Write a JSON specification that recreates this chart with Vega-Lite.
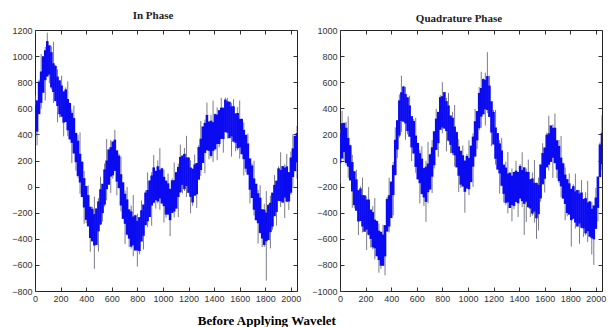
{
 "$schema": "https://vega.github.io/schema/vega-lite/v6.json",
 "background": "white",
 "padding": {"left": 11, "top": 9, "right": 0, "bottom": 0},
 "title": {"text": "Before Applying Wavelet", "orient": "bottom", "anchor": "middle", "font": "Liberation Serif", "fontSize": 13, "fontWeight": "bold", "color": "#000", "offset": 11, "dx": -42},
 "spacing": 9,
 "datasets": {
  "ip": [
{"x":0,"l":385,"h":625,"gl":390,"gh":700},{"x":16,"l":421,"h":661,"gl":316,"gh":646},{"x":32,"l":555,"h":805,"gl":580,"gh":820},{"x":48,"l":642,"h":882,"gl":597,"gh":1017},{"x":64,"l":719,"h":999,"gl":734,"gh":994},{"x":80,"l":815,"h":1045,"gl":660,"gh":1070},{"x":96,"l":845,"h":1115,"gl":840,"gh":1180},{"x":112,"l":858,"h":1083,"gl":793,"gh":1058},{"x":128,"l":760,"h":1030,"gl":745,"gh":1075},{"x":144,"l":725,"h":945,"gl":640,"gh":1110},{"x":160,"l":655,"h":925,"gl":680,"gh":930},{"x":176,"l":618,"h":843,"gl":493,"gh":898},{"x":192,"l":555,"h":815,"gl":530,"gh":800},
{"x":208,"l":535,"h":775,"gl":540,"gh":850},{"x":224,"l":490,"h":730,"gl":385,"gh":715},{"x":240,"l":495,"h":745,"gl":520,"gh":760},{"x":256,"l":431,"h":671,"gl":386,"gh":806},{"x":272,"l":361,"h":641,"gl":376,"gh":636},{"x":288,"l":335,"h":565,"gl":180,"gh":590},{"x":304,"l":255,"h":525,"gl":250,"gh":620},{"x":320,"l":187,"h":412,"gl":122,"gh":387},{"x":336,"l":82,"h":352,"gl":67,"gh":397},{"x":352,"l":31,"h":251,"gl":-54,"gh":416},{"x":368,"l":-80,"h":190,"gl":-55,"gh":195},{"x":384,"l":-160,"h":65,"gl":-285,"gh":120},{"x":400,"l":-255,"h":5,"gl":-280,"gh":-10},
{"x":416,"l":-305,"h":-65,"gl":-300,"gh":10},{"x":432,"l":-394,"h":-154,"gl":-499,"gh":-169},{"x":448,"l":-420,"h":-170,"gl":-395,"gh":-155},{"x":464,"l":-451,"h":-211,"gl":-630,"gh":-76},{"x":480,"l":-447,"h":-167,"gl":-432,"gh":-172},{"x":496,"l":-343,"h":-113,"gl":-498,"gh":-88},{"x":512,"l":-290,"h":-20,"gl":-295,"gh":75},{"x":528,"l":-203,"h":22,"gl":-268,"gh":-3},{"x":544,"l":-138,"h":132,"gl":-153,"gh":177},{"x":560,"l":-20,"h":200,"gl":-105,"gh":365},{"x":576,"l":14,"h":284,"gl":39,"gh":289},{"x":592,"l":77,"h":302,"gl":-48,"gh":357},{"x":608,"l":86,"h":346,"gl":61,"gh":331},
{"x":624,"l":120,"h":360,"gl":125,"gh":435},{"x":640,"l":38,"h":278,"gl":-67,"gh":263},{"x":656,"l":-12,"h":238,"gl":13,"gh":253},{"x":672,"l":-145,"h":95,"gl":-190,"gh":230},{"x":688,"l":-247,"h":33,"gl":-232,"gh":28},{"x":704,"l":-285,"h":-55,"gl":-440,"gh":-30},{"x":720,"l":-368,"h":-98,"gl":-373,"gh":-3},{"x":736,"l":-399,"h":-174,"gl":-464,"gh":-199},{"x":752,"l":-460,"h":-190,"gl":-475,"gh":-145},{"x":768,"l":-449,"h":-229,"gl":-534,"gh":-64},{"x":784,"l":-490,"h":-220,"gl":-465,"gh":-215},{"x":800,"l":-488,"h":-263,"gl":-613,"gh":-208},{"x":816,"l":-494,"h":-234,"gl":-519,"gh":-249},
{"x":832,"l":-421,"h":-181,"gl":-416,"gh":-106},{"x":848,"l":-377,"h":-137,"gl":-482,"gh":-152},{"x":864,"l":-296,"h":-46,"gl":-271,"gh":-31},{"x":880,"l":-266,"h":-26,"gl":-311,"gh":109},{"x":896,"l":-233,"h":47,"gl":-218,"gh":42},{"x":912,"l":-145,"h":85,"gl":-300,"gh":110},{"x":928,"l":-123,"h":147,"gl":-128,"gh":242},{"x":944,"l":-104,"h":121,"gl":-169,"gh":96},{"x":960,"l":-114,"h":156,"gl":-129,"gh":201},{"x":976,"l":-91,"h":129,"gl":-176,"gh":294},{"x":992,"l":-130,"h":140,"gl":-105,"gh":145},{"x":1008,"l":-150,"h":75,"gl":-275,"gh":130},{"x":1024,"l":-214,"h":46,"gl":-239,"gh":31},
{"x":1040,"l":-215,"h":25,"gl":-210,"gh":100},{"x":1056,"l":-257,"h":-17,"gl":-380,"gh":-32},{"x":1072,"l":-202,"h":48,"gl":-177,"gh":63},{"x":1088,"l":-191,"h":49,"gl":-236,"gh":184},{"x":1104,"l":-169,"h":111,"gl":-154,"gh":106},{"x":1120,"l":-79,"h":151,"gl":-234,"gh":176},{"x":1136,"l":-43,"h":227,"gl":-48,"gh":322},{"x":1152,"l":13,"h":238,"gl":-52,"gh":213},{"x":1168,"l":-19,"h":251,"gl":-34,"gh":296},{"x":1184,"l":4,"h":224,"gl":-81,"gh":389},{"x":1200,"l":-48,"h":222,"gl":-23,"gh":227},{"x":1216,"l":-79,"h":146,"gl":-204,"gh":201},{"x":1232,"l":-122,"h":138,"gl":-147,"gh":123},
{"x":1248,"l":-70,"h":170,"gl":-65,"gh":245},{"x":1264,"l":-59,"h":181,"gl":-164,"gh":166},{"x":1280,"l":53,"h":303,"gl":78,"gh":318},{"x":1296,"l":127,"h":367,"gl":82,"gh":502},{"x":1312,"l":181,"h":461,"gl":196,"gh":456},{"x":1328,"l":258,"h":488,"gl":103,"gh":513},{"x":1344,"l":279,"h":549,"gl":274,"gh":644},{"x":1360,"l":274,"h":499,"gl":209,"gh":474},{"x":1376,"l":235,"h":505,"gl":220,"gh":550},{"x":1392,"l":274,"h":494,"gl":189,"gh":659},{"x":1408,"l":285,"h":555,"gl":310,"gh":560},{"x":1424,"l":327,"h":552,"gl":202,"gh":607},{"x":1440,"l":326,"h":586,"gl":301,"gh":571},
{"x":1456,"l":365,"h":605,"gl":370,"gh":680},{"x":1472,"l":365,"h":605,"gl":260,"gh":590},{"x":1488,"l":417,"h":667,"gl":442,"gh":682},{"x":1504,"l":413,"h":653,"gl":368,"gh":680},{"x":1520,"l":371,"h":651,"gl":386,"gh":646},{"x":1536,"l":385,"h":615,"gl":230,"gh":640},{"x":1552,"l":345,"h":615,"gl":340,"gh":670},{"x":1568,"l":336,"h":561,"gl":271,"gh":536},{"x":1584,"l":294,"h":564,"gl":279,"gh":609},{"x":1600,"l":299,"h":519,"gl":214,"gh":660},{"x":1616,"l":248,"h":518,"gl":273,"gh":523},{"x":1632,"l":210,"h":435,"gl":85,"gh":490},{"x":1648,"l":137,"h":397,"gl":112,"gh":382},
{"x":1664,"l":91,"h":331,"gl":96,"gh":406},{"x":1680,"l":-24,"h":216,"gl":-129,"gh":201},{"x":1696,"l":-88,"h":162,"gl":-63,"gh":177},{"x":1712,"l":-177,"h":63,"gl":-222,"gh":198},{"x":1728,"l":-258,"h":22,"gl":-243,"gh":17},{"x":1744,"l":-281,"h":-51,"gl":-436,"gh":-26},{"x":1760,"l":-355,"h":-85,"gl":-360,"gh":10},{"x":1776,"l":-398,"h":-173,"gl":-463,"gh":-198},{"x":1792,"l":-447,"h":-177,"gl":-462,"gh":-132},{"x":1808,"l":-419,"h":-199,"gl":-720,"gh":-34},{"x":1824,"l":-410,"h":-140,"gl":-385,"gh":-135},{"x":1840,"l":-349,"h":-124,"gl":-474,"gh":-69},{"x":1856,"l":-306,"h":-46,"gl":-331,"gh":-61},
{"x":1872,"l":-227,"h":13,"gl":-222,"gh":88},{"x":1888,"l":-194,"h":46,"gl":-299,"gh":31},{"x":1904,"l":-110,"h":140,"gl":-85,"gh":155},{"x":1920,"l":-112,"h":128,"gl":-157,"gh":263},{"x":1936,"l":-123,"h":157,"gl":-108,"gh":152},{"x":1952,"l":-85,"h":145,"gl":-240,"gh":170},{"x":1968,"l":-115,"h":155,"gl":-120,"gh":250},{"x":1984,"l":-114,"h":111,"gl":-179,"gh":86},{"x":2000,"l":-47,"h":223,"gl":-62,"gh":268},{"x":2016,"l":73,"h":293,"gl":-12,"gh":400},{"x":2032,"l":118,"h":388,"gl":143,"gh":393},{"x":2048,"l":185,"h":410,"gl":60,"gh":465}
  ],
  "qp": [
{"x":0,"l":-20,"h":210,"gl":-175,"gh":235},{"x":16,"l":16,"h":286,"gl":11,"gh":381},{"x":32,"l":64,"h":289,"gl":-1,"gh":264},{"x":48,"l":-19,"h":251,"gl":-34,"gh":296},{"x":64,"l":-47,"h":173,"gl":-132,"gh":338},{"x":80,"l":-153,"h":117,"gl":-128,"gh":122},{"x":96,"l":-237,"h":-12,"gl":-362,"gh":43},{"x":112,"l":-342,"h":-82,"gl":-367,"gh":-97},{"x":128,"l":-385,"h":-145,"gl":-380,"gh":-70},{"x":144,"l":-467,"h":-227,"gl":-572,"gh":-242},{"x":160,"l":-464,"h":-214,"gl":-439,"gh":-199},{"x":176,"l":-506,"h":-266,"gl":-551,"gh":-131},{"x":192,"l":-546,"h":-266,"gl":-531,"gh":-271},
{"x":208,"l":-530,"h":-300,"gl":-685,"gh":-275},{"x":224,"l":-569,"h":-299,"gl":-574,"gh":-204},{"x":240,"l":-601,"h":-376,"gl":-666,"gh":-401},{"x":256,"l":-665,"h":-395,"gl":-680,"gh":-350},{"x":272,"l":-673,"h":-453,"gl":-758,"gh":-288},{"x":288,"l":-734,"h":-464,"gl":-709,"gh":-459},{"x":304,"l":-763,"h":-538,"gl":-860,"gh":-483},{"x":320,"l":-806,"h":-546,"gl":-831,"gh":-561},{"x":336,"l":-807,"h":-567,"gl":-802,"gh":-492},{"x":352,"l":-735,"h":-495,"gl":-880,"gh":-510},{"x":368,"l":-545,"h":-295,"gl":-520,"gh":-280},{"x":384,"l":-506,"h":-266,"gl":-551,"gh":-131},{"x":400,"l":-441,"h":-161,"gl":-426,"gh":-166},
{"x":416,"l":-265,"h":-35,"gl":-420,"gh":-10},{"x":432,"l":-111,"h":159,"gl":-116,"gh":254},{"x":448,"l":84,"h":309,"gl":19,"gh":284},{"x":464,"l":191,"h":461,"gl":176,"gh":506},{"x":480,"l":303,"h":523,"gl":218,"gh":650},{"x":496,"l":297,"h":567,"gl":322,"gh":572},{"x":512,"l":284,"h":509,"gl":159,"gh":564},{"x":528,"l":225,"h":485,"gl":200,"gh":470},{"x":544,"l":182,"h":422,"gl":187,"gh":497},{"x":560,"l":100,"h":340,"gl":-5,"gh":325},{"x":576,"l":53,"h":303,"gl":78,"gh":318},{"x":592,"l":-49,"h":191,"gl":-94,"gh":326},{"x":608,"l":-145,"h":135,"gl":-130,"gh":130},
{"x":624,"l":-174,"h":56,"gl":-329,"gh":81},{"x":640,"l":-256,"h":14,"gl":-261,"gh":109},{"x":656,"l":-283,"h":-58,"gl":-348,"gh":-83},{"x":672,"l":-317,"h":-47,"gl":-470,"gh":-2},{"x":688,"l":-243,"h":-23,"gl":-328,"gh":142},{"x":704,"l":-223,"h":47,"gl":-198,"gh":52},{"x":720,"l":-124,"h":101,"gl":-249,"gh":156},{"x":736,"l":-36,"h":224,"gl":-61,"gh":209},{"x":752,"l":81,"h":321,"gl":86,"gh":396},{"x":768,"l":133,"h":373,"gl":28,"gh":358},{"x":784,"l":235,"h":485,"gl":260,"gh":500},{"x":800,"l":253,"h":493,"gl":208,"gh":600},{"x":816,"l":244,"h":524,"gl":259,"gh":519},
{"x":832,"l":225,"h":455,"gl":70,"gh":480},{"x":848,"l":152,"h":422,"gl":147,"gh":517},{"x":864,"l":120,"h":345,"gl":55,"gh":320},{"x":880,"l":58,"h":328,"gl":43,"gh":373},{"x":896,"l":40,"h":260,"gl":-45,"gh":425},{"x":912,"l":-53,"h":217,"gl":-28,"gh":222},{"x":928,"l":-117,"h":108,"gl":-242,"gh":163},{"x":944,"l":-185,"h":75,"gl":-210,"gh":60},{"x":960,"l":-200,"h":40,"gl":-195,"gh":115},{"x":976,"l":-240,"h":0,"gl":-400,"gh":-15},{"x":992,"l":-215,"h":35,"gl":-190,"gh":50},{"x":1008,"l":-220,"h":20,"gl":-265,"gh":155},{"x":1024,"l":-166,"h":114,"gl":-151,"gh":109},
{"x":1040,"l":-47,"h":183,"gl":-202,"gh":208},{"x":1056,"l":31,"h":301,"gl":26,"gh":396},{"x":1072,"l":154,"h":379,"gl":89,"gh":354},{"x":1088,"l":248,"h":518,"gl":233,"gh":563},{"x":1104,"l":336,"h":556,"gl":251,"gh":680},{"x":1120,"l":354,"h":624,"gl":379,"gh":629},{"x":1136,"l":393,"h":618,"gl":268,"gh":673},{"x":1152,"l":387,"h":647,"gl":362,"gh":830},{"x":1168,"l":334,"h":574,"gl":339,"gh":649},{"x":1184,"l":214,"h":454,"gl":109,"gh":439},{"x":1200,"l":122,"h":372,"gl":147,"gh":387},{"x":1216,"l":13,"h":253,"gl":-32,"gh":388},{"x":1232,"l":-70,"h":210,"gl":-55,"gh":205},
{"x":1248,"l":-99,"h":131,"gl":-254,"gh":156},{"x":1264,"l":-193,"h":77,"gl":-198,"gh":172},{"x":1280,"l":-256,"h":-31,"gl":-321,"gh":-56},{"x":1296,"l":-324,"h":-54,"gl":-339,"gh":-9},{"x":1312,"l":-320,"h":-100,"gl":-405,"gh":65},{"x":1328,"l":-364,"h":-94,"gl":-339,"gh":-89},{"x":1344,"l":-341,"h":-116,"gl":-466,"gh":-61},{"x":1360,"l":-348,"h":-88,"gl":-373,"gh":-103},{"x":1376,"l":-318,"h":-78,"gl":-313,"gh":-3},{"x":1392,"l":-328,"h":-88,"gl":-433,"gh":-103},{"x":1408,"l":-292,"h":-42,"gl":-267,"gh":-27},{"x":1424,"l":-312,"h":-72,"gl":-357,"gh":63},{"x":1440,"l":-332,"h":-52,"gl":-570,"gh":-57},
{"x":1456,"l":-316,"h":-86,"gl":-471,"gh":-61},{"x":1472,"l":-358,"h":-88,"gl":-363,"gh":7},{"x":1488,"l":-368,"h":-143,"gl":-433,"gh":-168},{"x":1504,"l":-407,"h":-137,"gl":-422,"gh":-92},{"x":1520,"l":-391,"h":-171,"gl":-476,"gh":4},{"x":1536,"l":-443,"h":-173,"gl":-600,"gh":-168},{"x":1552,"l":-411,"h":-186,"gl":-536,"gh":-131},{"x":1568,"l":-290,"h":-30,"gl":-315,"gh":-45},{"x":1584,"l":-183,"h":57,"gl":-178,"gh":132},{"x":1600,"l":-140,"h":100,"gl":-245,"gh":85},{"x":1616,"l":-53,"h":197,"gl":-28,"gh":212},{"x":1632,"l":-32,"h":208,"gl":-77,"gh":343},{"x":1648,"l":-11,"h":269,"gl":4,"gh":264},
{"x":1664,"l":21,"h":251,"gl":-134,"gh":276},{"x":1680,"l":-19,"h":251,"gl":-24,"gh":360},{"x":1696,"l":-70,"h":155,"gl":-135,"gh":130},{"x":1712,"l":-158,"h":112,"gl":-173,"gh":157},{"x":1728,"l":-198,"h":22,"gl":-283,"gh":187},{"x":1744,"l":-292,"h":-22,"gl":-267,"gh":-17},{"x":1760,"l":-333,"h":-108,"gl":-458,"gh":-53},{"x":1776,"l":-403,"h":-143,"gl":-428,"gh":-158},{"x":1792,"l":-415,"h":-175,"gl":-410,"gh":-100},{"x":1808,"l":-457,"h":-217,"gl":-660,"gh":-232},{"x":1824,"l":-447,"h":-197,"gl":-422,"gh":-182},{"x":1840,"l":-476,"h":-236,"gl":-521,"gh":-101},{"x":1856,"l":-506,"h":-226,"gl":-491,"gh":-231},
{"x":1872,"l":-483,"h":-253,"gl":-638,"gh":-228},{"x":1888,"l":-515,"h":-245,"gl":-520,"gh":-150},{"x":1904,"l":-520,"h":-295,"gl":-585,"gh":-320},{"x":1920,"l":-558,"h":-288,"gl":-573,"gh":-243},{"x":1936,"l":-541,"h":-321,"gl":-626,"gh":-156},{"x":1952,"l":-584,"h":-314,"gl":-559,"gh":-309},{"x":1968,"l":-595,"h":-370,"gl":-720,"gh":-315},{"x":1984,"l":-604,"h":-344,"gl":-800,"gh":-359},{"x":2000,"l":-524,"h":-284,"gl":-519,"gh":-209},{"x":2016,"l":-363,"h":-123,"gl":-468,"gh":-138},{"x":2032,"l":-127,"h":123,"gl":-102,"gh":138},{"x":2048,"l":-28,"h":212,"gl":-73,"gh":347}
  ]
 },
 "hconcat": [
  {
   "width": 262, "height": 261,
   "title": {"text": "In Phase", "dx": -13, "offset": 5},
   "data": {"name": "ip"},
   "resolve": {"axis": {"x": "independent", "y": "independent"}},
   "layer": [
    {"mark": {"type": "rule", "color": "#7a7a8a", "strokeWidth": 1, "clip": true},
     "encoding": {
      "x": {"field": "x", "type": "quantitative", "scale": {"domain": [0, 2048], "nice": false, "zero": false}, "axis": {"orient": "bottom", "format": "d", "values": [0,200,400,600,800,1000,1200,1400,1600,1800,2000], "title": null}},
      "y": {"field": "gl", "type": "quantitative", "scale": {"domain": [-800, 1200], "nice": false, "zero": false}, "axis": {"orient": "left", "format": "d", "values": [-800,-600,-400,-200,0,200,400,600,800,1000,1200], "title": null}},
      "y2": {"field": "gh"}}},
    {"mark": {"type": "rule", "color": "#0b0bf2", "strokeWidth": 2.6, "clip": true},
     "encoding": {
      "x": {"field": "x", "type": "quantitative", "axis": {"orient": "top", "labels": false, "maxExtent": 0, "values": [0,200,400,600,800,1000,1200,1400,1600,1800,2000], "title": null}},
      "y": {"field": "l", "type": "quantitative", "axis": {"orient": "right", "labels": false, "maxExtent": 0, "values": [-800,-600,-400,-200,0,200,400,600,800,1000,1200], "title": null}},
      "y2": {"field": "h"}}}
   ]
  },
  {
   "width": 262, "height": 261,
   "title": {"text": "Quadrature Phase", "dx": -12, "offset": 2},
   "data": {"name": "qp"},
   "resolve": {"axis": {"x": "independent", "y": "independent"}},
   "layer": [
    {"mark": {"type": "rule", "color": "#7a7a8a", "strokeWidth": 1, "clip": true},
     "encoding": {
      "x": {"field": "x", "type": "quantitative", "scale": {"domain": [0, 2048], "nice": false, "zero": false}, "axis": {"orient": "bottom", "format": "d", "values": [0,200,400,600,800,1000,1200,1400,1600,1800,2000], "title": null}},
      "y": {"field": "gl", "type": "quantitative", "scale": {"domain": [-1000, 1000], "nice": false, "zero": false}, "axis": {"orient": "left", "format": "d", "values": [-1000,-800,-600,-400,-200,0,200,400,600,800,1000], "title": null}},
      "y2": {"field": "gh"}}},
    {"mark": {"type": "rule", "color": "#0b0bf2", "strokeWidth": 2.6, "clip": true},
     "encoding": {
      "x": {"field": "x", "type": "quantitative", "axis": {"orient": "top", "labels": false, "maxExtent": 0, "values": [0,200,400,600,800,1000,1200,1400,1600,1800,2000], "title": null}},
      "y": {"field": "l", "type": "quantitative", "axis": {"orient": "right", "labels": false, "maxExtent": 0, "values": [-1000,-800,-600,-400,-200,0,200,400,600,800,1000], "title": null}},
      "y2": {"field": "h"}}}
   ]
  }
 ],
 "config": {
  "view": {"stroke": "#222", "strokeWidth": 1},
  "axis": {"grid": false, "domain": false, "tickSize": -4, "tickColor": "#333", "labelPadding": 7, "labelFont": "Liberation Sans Narrow, Liberation Sans, Arial", "labelFontSize": 9, "labelColor": "#333", "labelFlush": false, "labelOverlap": false, "labelBound": false},
  "title": {"font": "Liberation Serif", "fontSize": 11, "fontWeight": "bold", "color": "#222", "anchor": "middle"}
 }
}
